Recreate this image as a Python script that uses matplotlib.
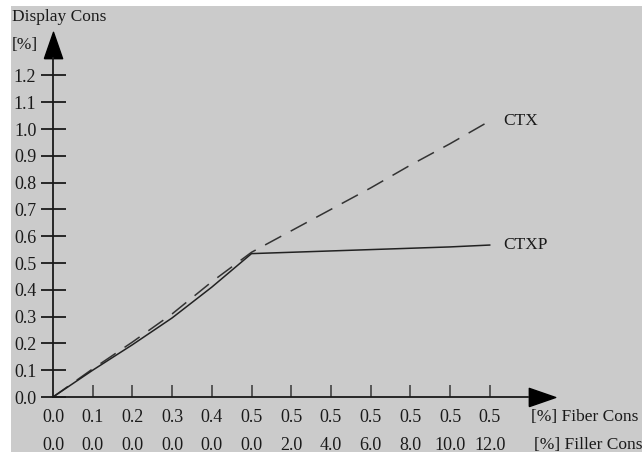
import numpy as np
import matplotlib.pyplot as plt
from matplotlib.patches import Rectangle

# datos
fibra = ['0.0', '0.1', '0.2', '0.3', '0.4', '0.5', '0.5', '0.5', '0.5', '0.5', '0.5', '0.5']
filler = ['0.0', '0.0', '0.0', '0.0', '0.0', '0.0', '2.0', '4.0', '6.0', '8.0', '10.0', '12.0']
ctx = [0.0, 0.105, 0.205, 0.31, 0.43, 0.54, 0.62, 0.70, 0.78, 0.865, 0.945, 1.03]
ctxp = [0.0, 0.10, 0.195, 0.295, 0.41, 0.535, 0.54, 0.545, 0.55, 0.555, 0.56, 0.567]
y_ticks = [0.0, 0.1, 0.2, 0.3, 0.4, 0.5, 0.6, 0.7, 0.8, 0.9, 1.0, 1.1, 1.2]

plt.rcParams['font.family'] = ['Liberation Serif', 'DejaVu Serif']
fs = 12.5
fs_num = 13
W, H = 642, 454
gris = '#cbcbcb'
tinta = '#1a1a1a'

fig = plt.figure(figsize=(W / 100, H / 100), dpi=100, facecolor='white')
fig.patches.append(Rectangle((11 / W, 2 / H), 1, 1 - 8 / H, transform=fig.transFigure,
                             facecolor=gris, edgecolor='none', zorder=-1))

x0, y0, x1, y1 = 53, 397, 555, 32
ax = fig.add_axes([x0 / W, 1 - y0 / H, (x1 - x0) / W, (y0 - y1) / H])
ax.set_facecolor('none')
xmax = (x1 - x0) / 39.7
ymax = (y0 - y1) / 268.0
ax.set_xlim(0, xmax)
ax.set_ylim(0, ymax)

x = np.arange(len(fibra))
ax.plot(x, ctx, color='#333333', lw=1.1, dashes=(12, 7), clip_on=False)
ax.plot(x, ctxp, color='#222222', lw=1.1, clip_on=False)
ax.text(x[-1] + 0.33, ctx[-1], 'CTX', fontsize=fs, va='center', ha='left', color=tinta)
ax.text(x[-1] + 0.33, ctxp[-1], 'CTXP', fontsize=fs, va='center', ha='left', color=tinta)

# ejes con flechas
for s in ['top', 'right']:
    ax.spines[s].set_visible(False)
ax.spines['left'].set_bounds(0, ymax - 26 / 268.0)
ax.spines['bottom'].set_bounds(0, xmax - 27 / 39.7)
for s in ['left', 'bottom']:
    ax.spines[s].set_color(tinta)
    ax.spines[s].set_linewidth(1.3)
flecha_v = [(-9, -13), (9, -13), (0, 13), (-9, -13)]
flecha_h = [(-13, -9), (-13, 9), (13, 0), (-13, -9)]
ax.plot(0, ymax - 13 / 268.0, marker=flecha_v, ms=19, color='black', clip_on=False)
ax.plot(xmax - 13 / 39.7, 0, marker=flecha_h, ms=19, color='black', clip_on=False)

ax.set_yticks(y_ticks)
ax.set_yticklabels([f'{v:.1f}' for v in y_ticks])
ax.tick_params(axis='y', direction='inout', length=18, width=1.3, color=tinta,
               labelsize=fs_num, pad=3, labelcolor=tinta)
ax.set_xticks(x)
ax.set_xticklabels(fibra)
ax.tick_params(axis='x', direction='in', length=9, width=1.2, color='#444444',
               labelsize=fs_num, pad=9, labelcolor=tinta)
ax.xaxis.get_major_ticks()[0].tick1line.set_visible(False)

for xi, lab in zip(x, filler):
    ax.text(xi, -49 / 268.0, lab, fontsize=fs_num, ha='center', va='center', color=tinta)
ax.text(12.05, -20 / 268.0, '[%] Fiber Cons', fontsize=fs, ha='left', va='center', color=tinta)
ax.text(12.12, -48 / 268.0, '[%] Filler Cons', fontsize=fs, ha='left', va='center', color=tinta)

fig.text(12 / W, 1 - 17 / H, 'Display Cons', fontsize=fs, ha='left', va='center', color=tinta)
fig.text(12 / W, 1 - 45 / H, '[%]', fontsize=fs, ha='left', va='center', color=tinta)

plt.savefig('out.png', dpi=100, facecolor='white')
plt.close()
